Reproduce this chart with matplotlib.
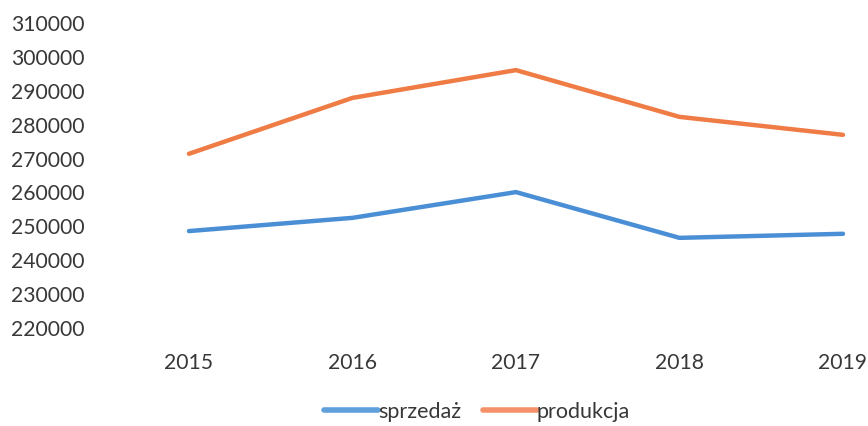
import matplotlib
matplotlib.use("Agg")
import matplotlib.pyplot as plt

# Values
years = ["2015", "2016", "2017", "2018", "2019"]
sprzedaz = [248600, 252500, 260100, 246600, 247800]
produkcja = [271400, 287900, 296100, 282300, 277000]
y_ticks = list(range(220000, 310001, 10000))

plt.rcParams["font.family"] = ["Lato", "DejaVu Sans"]
text_color = "#383838"

fig = plt.figure(figsize=(8.68, 4.26), dpi=100)
ax = fig.add_axes([100 / 868, 98 / 426, 768 / 868, 305 / 426])

x = list(range(len(years)))
ax.plot(x, sprzedaz, color="#4A8FD6", linewidth=3.2, solid_capstyle="round",
        label="sprzedaż")
ax.plot(x, produkcja, color="#EF7B45", linewidth=3.2, solid_capstyle="round",
        label="produkcja")

ax.set_xlim(-0.544, 4.153)
ax.set_ylim(220000, 310000)
ax.set_yticks(y_ticks)
ax.set_yticklabels([str(v) for v in y_ticks])
ax.set_xticks(x)
ax.set_xticklabels(years)

for s in ax.spines.values():
    s.set_visible(False)
ax.tick_params(axis="y", length=0, pad=11, labelsize=15.2, labelcolor=text_color)
ax.tick_params(axis="x", length=0, pad=18, labelsize=15.2, labelcolor=text_color)

leg = fig.legend(loc="center", bbox_to_anchor=(477 / 868, 1 - 412 / 426), ncol=2,
                 frameon=False, fontsize=15.5, handlelength=2.5, handletextpad=0.0,
                 columnspacing=1.0)
for t in leg.get_texts():
    t.set_color(text_color)
leg.get_lines()[0].set_color("#5FA0DC")
leg.get_lines()[1].set_color("#F4916A")
for ln in leg.get_lines():
    ln.set_linewidth(4)

fig.savefig("out.png", dpi=100)
